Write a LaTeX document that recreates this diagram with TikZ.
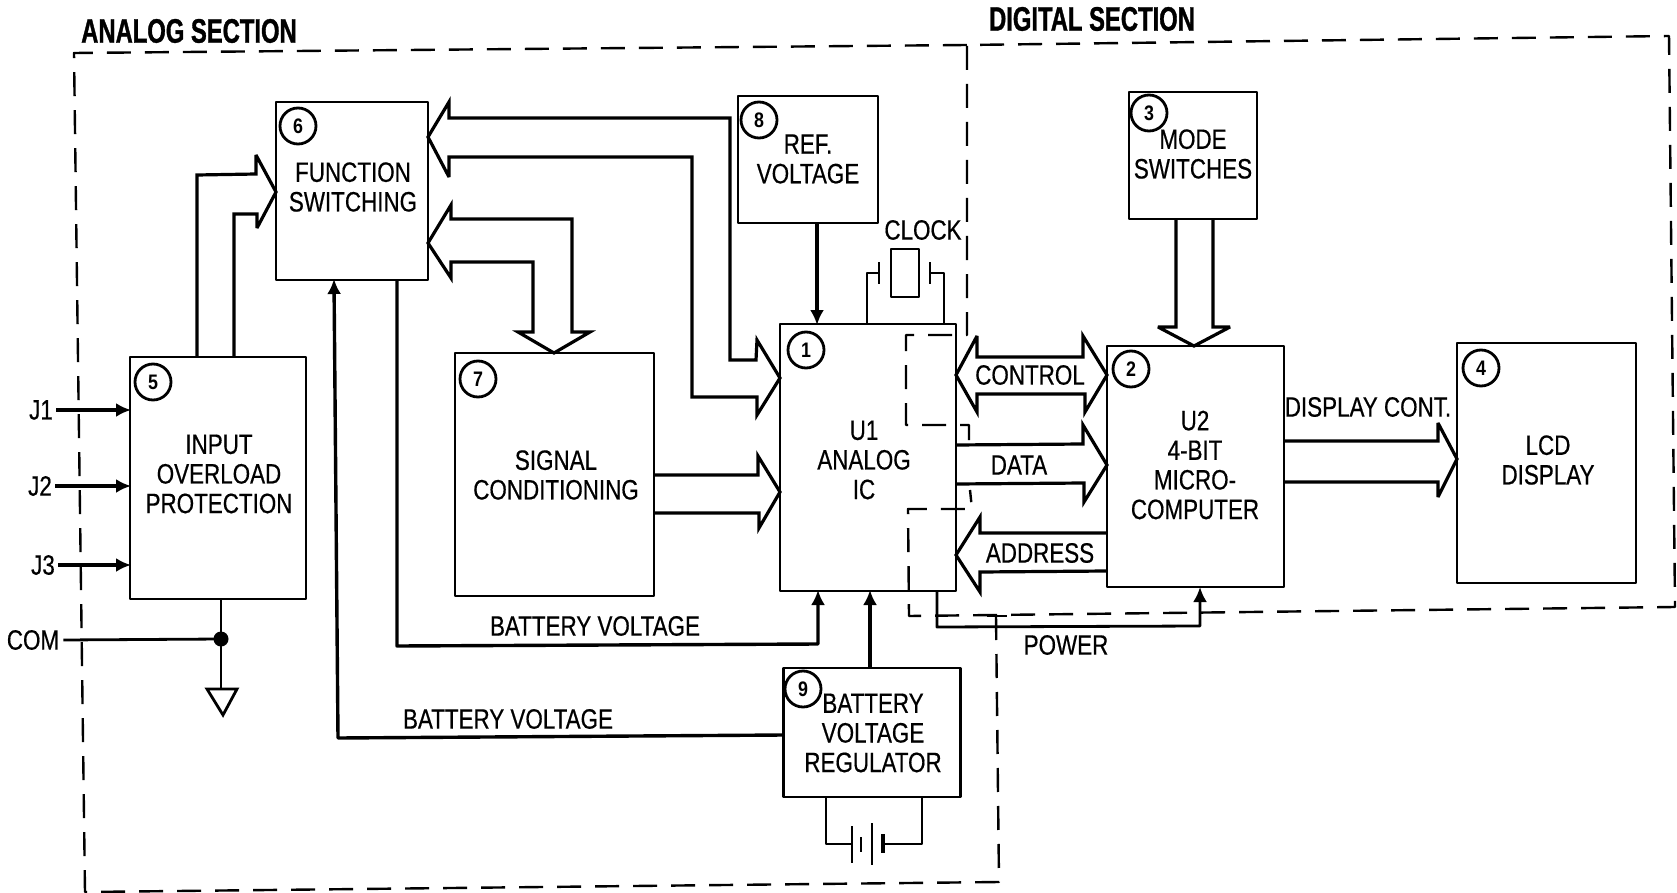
\documentclass[tikz,border=0pt]{standalone}
\usepackage{fontspec}
\setmainfont[FakeStretch=0.8,FakeBold=0.5]{Liberation Sans}
\newfontfamily\headfont[FakeStretch=0.7,FakeBold=1]{Liberation Sans Bold}
\newfontfamily\numfont[FakeStretch=0.85]{Liberation Sans Bold}
\usetikzlibrary{arrows.meta,calc}
\tikzset{
  box/.style={draw,line width=2.4pt,inner sep=0pt,outer sep=0pt,line join=round},
  lbl/.style={inner sep=0pt,align=center,font=\fontsize{28}{29.6}\selectfont},
  head/.style={inner sep=0pt,font=\headfont\fontsize{34}{36}\selectfont},
  num/.style={draw,circle,line width=2.8pt,minimum size=36pt,inner sep=0pt,font=\numfont\fontsize{21}{21}\selectfont},
  wire/.style={line width=3.4pt,line join=round},
  thin wire/.style={line width=2.8pt,line join=round},
  fat/.style={line width=3.2pt,line join=miter,miter limit=4},
  sig/.style={wire,-{Latex[length=15pt,width=14pt]},shorten >=-1pt},
  boundary/.style={line width=2.4pt,dash pattern=on 24pt off 14pt,line join=round},
}
\begin{document}
\begin{tikzpicture}[x=1pt,y=-1pt]
\useasboundingbox (0,0) rectangle (1677,893);
% boxes
\node[box,minimum width=152pt,minimum height=178pt] (r6) at (352,191) {};
\node[box,minimum width=176pt,minimum height=242pt] (r5) at (218,478) {};
\node[box,minimum width=199pt,minimum height=243pt] (r7) at (554.5,474.5) {};
\node[box,minimum width=140pt,minimum height=127pt] (r8) at (808,159.5) {};
\node[box,minimum width=128pt,minimum height=127pt] (r3) at (1193,155.5) {};
\node[box,minimum width=176pt,minimum height=267pt] (u1) at (868,457.5) {};
\node[box,minimum width=177pt,minimum height=241pt] (u2) at (1195.5,466.5) {};
\node[box,minimum width=179pt,minimum height=240pt] (r4) at (1546.5,463) {};
\node[box,minimum width=177pt,minimum height=129pt] (r9) at (872,732.5) {};
% numbers
\node[num] (n1) at (806,350) {1};
\node[num] (n2) at (1131,369) {2};
\node[num] (n3) at (1149,113) {3};
\node[num] (n4) at (1481,368) {4};
\node[num] (n5) at (153,382) {5};
\node[num] (n6) at (298,126) {6};
\node[num] (n7) at (478,379) {7};
\node[num] (n8) at (759,120) {8};
\node[num] (n9) at (803,689) {9};
% box texts
\node[lbl] (t6) at (353,187) {FUNCTION\\SWITCHING};
\node[lbl] (t5) at (219,474) {INPUT\\OVERLOAD\\PROTECTION};
\node[lbl] (t7) at (556,475) {SIGNAL\\CONDITIONING};
\node[lbl] (t8) at (808,159) {REF.\\VOLTAGE};
\node[lbl] (t3) at (1193,154) {MODE\\SWITCHES};
\node[lbl] (t1) at (864,460) {U1\\ANALOG\\IC};
\node[lbl] (t2) at (1195,465) {U2\\4-BIT\\MICRO-\\COMPUTER};
\node[lbl] (t4) at (1548,460) {LCD\\DISPLAY};
\node[lbl] (t9) at (873,733) {BATTERY\\VOLTAGE\\REGULATOR};
% bus and wire labels
\node[lbl] (lctl) at (1030,375) {CONTROL};
\node[lbl] (ldat) at (1019,465) {DATA};
\node[lbl] (ladr) at (1040,553) {ADDRESS};
\node[lbl] (ldsp) at (1368,407) {DISPLAY CONT.};
\node[lbl] (lbv1) at (595,626) {BATTERY VOLTAGE};
\node[lbl] (lbv2) at (508,719) {BATTERY VOLTAGE};
\node[lbl] (lpow) at (1066,645) {POWER};
\node[lbl] (lclk) at (923,230) {CLOCK};
\node[lbl] (j1) at (41,410) {J1};
\node[lbl] (j2) at (40,486) {J2};
\node[lbl] (j3) at (43,565) {J3};
\node[lbl] (com) at (33,640) {COM};
\node[head] (ha) at (189,31) {ANALOG SECTION};
\node[head] (hd) at (1092,19) {DIGITAL SECTION};
% section boundaries
\draw[boundary] (996,616) -- (999,882) -- (85,892) -- (74,53) -- (967,45);
\draw[boundary] (969,440) -- (969,425) -- (906,425) -- (906,335) -- (967,335) -- (967,45) -- (1669,36) -- (1675,607) -- (909,616) -- (908,509) -- (972,509) -- (970,490);
\draw[line width=2.4pt] (987,616) -- (1007,616);
% inputs
\draw[sig] (j1.east) ++(3,0) -- (r5.west |- j1.east);
\draw[sig] (j2.east) ++(3,0) -- (r5.west |- j2.east);
\draw[sig] (j3.east) ++(3,0) -- (r5.west |- j3.east);
\coordinate (gnd) at (221,689);
\node[fill,circle,minimum size=15pt,inner sep=0pt] (jn) at (221,639) {};
\draw[thin wire] (com.east) ++(4,0) -- (jn.center);
\draw[thin wire] (r5.south -| jn.center) -- (gnd);
\draw[thin wire,line join=miter] (207,689) -- (237,689) -- (223,715) -- cycle;
% fat arrows
\draw[fat] (197,0 |- r5.north) -- (197,175) -- (256,174) -- (256,155) -- (r6.west |- 0,192) -- (257,228) -- (257,214) -- (234,214) -- (234,0 |- r5.north);
\draw[fat] (u1.west |- 0,378) -- (757,340) -- (756,360) -- (730,360) -- (730,118) -- (449,118) -- (449,102) -- (r6.east |- 0,137) -- (449,177) -- (449,157) -- (692,157) -- (692,397) -- (757,397) -- (757,415) -- cycle;
\draw[fat] (r6.east |- 0,243) -- (451,205) -- (451,219) -- (572,219) -- (572,332) -- (590,332) -- (554,0 |- r7.north) -- (518,332) -- (533,332) -- (533,262) -- (451,262) -- (451,278) -- cycle;
\draw[fat] (r7.east |- 0,475) -- (758,475) -- (758,456) -- (u1.west |- 0,492) -- (759,528) -- (759,513) -- (r7.east |- 0,513);
\draw[fat] (u1.east |- 0,375) -- (977,336) -- (977,357) -- (1083,357) -- (1083,336) -- (u2.west |- 0,375) -- (1085,412) -- (1085,394) -- (977,394) -- (977,412) -- cycle;
\draw[fat] (u1.east |- 0,445) -- (1083,444) -- (1083,425) -- (u2.west |- 0,465) -- (1084,502) -- (1084,483) -- (u1.east |- 0,484);
\draw[fat] (u2.west |- 0,533) -- (980,533) -- (980,517) -- (u1.east |- 0,555) -- (980,592) -- (980,572) -- (u2.west |- 0,571);
\draw[fat] (1176,0 |- r3.south) -- (1176,327) -- (1158,327) -- (1194,0 |- u2.north) -- (1230,327) -- (1213,327) -- (1213,0 |- r3.south);
\draw[fat] (u2.east |- 0,441) -- (1438,441) -- (1438,423) -- (r4.west |- 0,459) -- (1438,497) -- (1438,482) -- (u2.east |- 0,482);
% single wires
\draw[sig] (r8.south -| 817,0) -- (817,0 |- u1.north);
\draw[sig] (r9.west |- 0,735) -- (338,738) -- (334,0 |- r6.south);
\draw[sig] (397,0 |- r6.south) -- (397,646) -- (818,644) -- (818,0 |- u1.south);
\draw[sig] (870,0 |- r9.north) -- (870,0 |- u1.south);
\draw[thin wire,-{Latex[length=15pt,width=14pt]}] (937,0 |- u1.south) -- (937,627) -- (1200,626) -- (1200,0 |- u2.south);
% clock
\node[box,minimum width=28pt,minimum height=48pt] (xtal) at (905,273) {};
\coordinate (pl) at (879,273);
\coordinate (pr) at (930,273);
\draw[thin wire] (pl) ++(0,-11) -- ++(0,22);
\draw[thin wire] (pr) ++(0,-11) -- ++(0,22);
\draw[thin wire] (pl) -- (867,273) -- (867,0 |- u1.north);
\draw[thin wire] (pr) -- (944,273) -- (944,0 |- u1.north);
% battery
\coordinate (b1) at (852,844);
\coordinate (b2) at (883,844);
\draw[box] (826,0 |- r9.south) -- (826,844) -- (b1);
\draw[box] (922,0 |- r9.south) -- (922,844) -- (b2);
\draw[line width=2.4pt] (852,826) -- (852,863);
\draw[line width=2.4pt] (861,837) -- (861,852);
\draw[line width=2.4pt] (872,823) -- (872,865);
\draw[line width=3.4pt] (883,834) -- (883,853);
\end{tikzpicture}
\end{document}
